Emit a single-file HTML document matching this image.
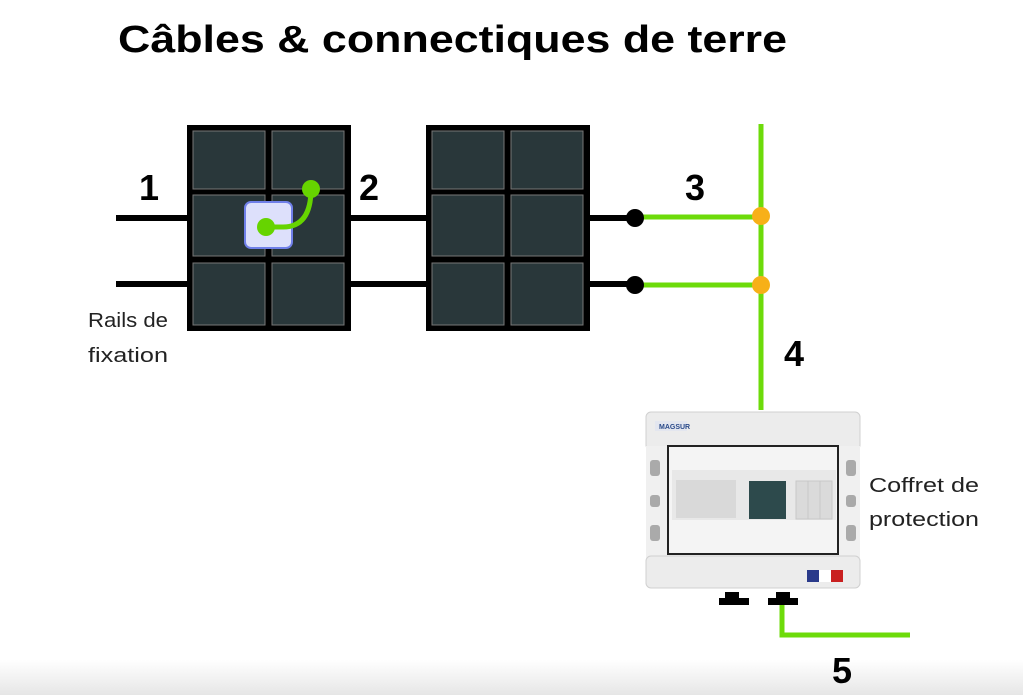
<!DOCTYPE html>
<html><head><meta charset="utf-8"><style>
html,body{margin:0;padding:0;background:#fff;width:1023px;height:695px;overflow:hidden}
</style></head><body>
<svg width="1023" height="695" xmlns="http://www.w3.org/2000/svg" font-family="Liberation Sans, sans-serif">
<defs><linearGradient id="bg" x1="0" y1="0" x2="0" y2="1"><stop offset="0" stop-color="#fff"/><stop offset="1" stop-color="#e6e6e6"/></linearGradient></defs>
<rect x="0" y="660" width="1023" height="35" fill="url(#bg)"/>
<text x="118" y="52" font-size="38" font-weight="bold" textLength="669" lengthAdjust="spacingAndGlyphs">Câbles &amp; connectiques de terre</text>
<g stroke="#000" stroke-width="6">
<line x1="116" y1="218" x2="190" y2="218"/><line x1="116" y1="284" x2="190" y2="284"/>
<line x1="348" y1="218" x2="428" y2="218"/><line x1="348" y1="284" x2="428" y2="284"/>
<line x1="588" y1="218" x2="635" y2="218"/><line x1="588" y1="284" x2="635" y2="284"/>
</g>
<g>
<rect x="187" y="125" width="164" height="206" fill="#000"/>
<g fill="#29373a" stroke="#777" stroke-width="1">
<rect x="193" y="131" width="72" height="58"/><rect x="272" y="131" width="72" height="58"/>
<rect x="193" y="195" width="72" height="61"/><rect x="272" y="195" width="72" height="61"/>
<rect x="193" y="263" width="72" height="62"/><rect x="272" y="263" width="72" height="62"/>
</g>
<rect x="426" y="125" width="164" height="206" fill="#000"/>
<g fill="#29373a" stroke="#777" stroke-width="1">
<rect x="432" y="131" width="72" height="58"/><rect x="511" y="131" width="72" height="58"/>
<rect x="432" y="195" width="72" height="61"/><rect x="511" y="195" width="72" height="61"/>
<rect x="432" y="263" width="72" height="62"/><rect x="511" y="263" width="72" height="62"/>
</g>
</g>
<rect x="245" y="202" width="47" height="46" rx="6" fill="#dde0fb" stroke="#6f7fe8" stroke-width="2"/>
<path d="M266 227 H283 Q311 227 311 189" fill="none" stroke="#66d400" stroke-width="5"/>
<circle cx="266" cy="227" r="9" fill="#66d400"/><circle cx="311" cy="189" r="9" fill="#66d400"/>
<g stroke="#6ddb0a" stroke-width="5" fill="none">
<line x1="635" y1="217" x2="761" y2="217"/><line x1="635" y1="285" x2="761" y2="285"/>
<line x1="761" y1="124" x2="761" y2="410"/>
<path d="M782 605 V635 H910"/>
</g>
<circle cx="635" cy="218" r="9" fill="#000"/><circle cx="635" cy="285" r="9" fill="#000"/>
<circle cx="761" cy="216" r="9" fill="#f7b018"/><circle cx="761" cy="285" r="9" fill="#f7b018"/>
<rect x="646" y="412" width="214" height="38" rx="5" fill="#ececec" stroke="#d0d0d0"/>
<rect x="655" y="421" width="32" height="10" fill="#e3e6ef"/>
<text x="659" y="429" font-size="7" fill="#2a4a8a" font-weight="bold">MAGSUR</text>
<rect x="646" y="446" width="214" height="112" fill="#f0f0f0"/>
<rect x="668" y="446" width="170" height="108" fill="#f4f4f4" stroke="#222" stroke-width="2"/>
<rect x="672" y="470" width="164" height="50" fill="#e8e8e8"/>
<rect x="676" y="480" width="60" height="38" fill="#d9d9d9"/>
<rect x="749" y="481" width="37" height="38" fill="#2d4a4c"/>
<g fill="#dadada" stroke="#c8c8c8"><rect x="796" y="481" width="12" height="38"/><rect x="808" y="481" width="12" height="38"/><rect x="820" y="481" width="12" height="38"/></g>
<rect x="646" y="556" width="214" height="32" rx="5" fill="#ececec" stroke="#d0d0d0"/>
<rect x="807" y="570" width="12" height="12" fill="#2a3a8a"/><rect x="819" y="570" width="12" height="12" fill="#fff"/><rect x="831" y="570" width="12" height="12" fill="#c92020"/>
<g fill="#aaa"><rect x="650" y="460" width="10" height="16" rx="3"/><rect x="650" y="495" width="10" height="12" rx="3"/><rect x="650" y="525" width="10" height="16" rx="3"/>
<rect x="846" y="460" width="10" height="16" rx="3"/><rect x="846" y="495" width="10" height="12" rx="3"/><rect x="846" y="525" width="10" height="16" rx="3"/></g>
<g fill="#000"><rect x="725" y="592" width="14" height="8"/><rect x="719" y="598" width="30" height="7"/>
<rect x="776" y="592" width="14" height="8"/><rect x="768" y="598" width="30" height="7"/></g>
<g font-size="36" font-weight="bold">
<text x="139" y="200">1</text><text x="359" y="200">2</text><text x="685" y="200">3</text><text x="784" y="366">4</text><text x="832" y="683">5</text>
</g>
<g font-size="20" fill="#222">
<text x="88" y="327" textLength="80" lengthAdjust="spacingAndGlyphs">Rails de</text>
<text x="88" y="362" textLength="80" lengthAdjust="spacingAndGlyphs">fixation</text>
<text x="869" y="492" textLength="110" lengthAdjust="spacingAndGlyphs">Coffret de</text>
<text x="869" y="526" textLength="110" lengthAdjust="spacingAndGlyphs">protection</text>
</g>
</svg>
</body></html>
